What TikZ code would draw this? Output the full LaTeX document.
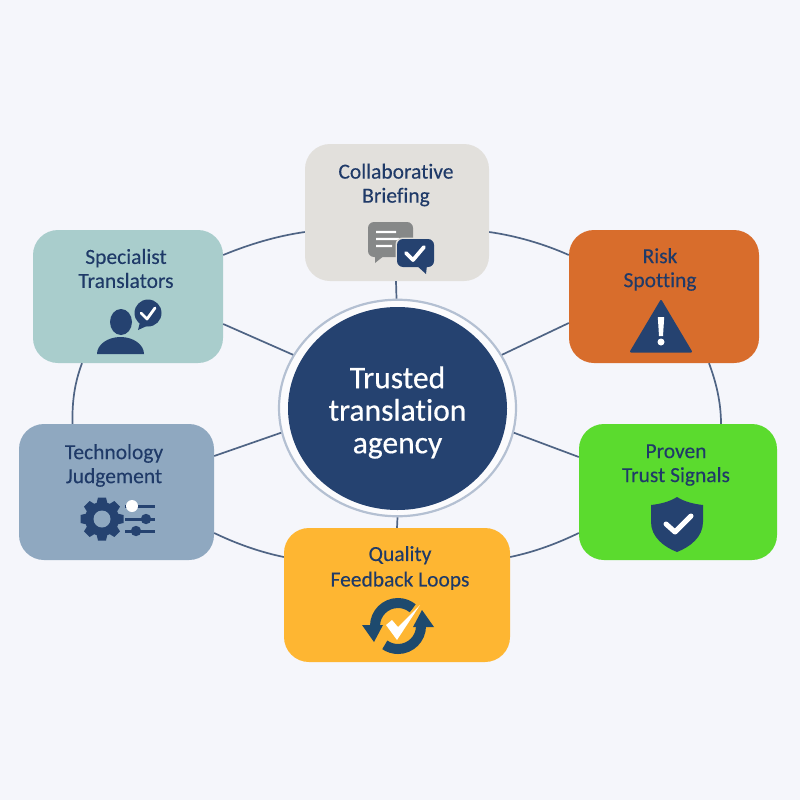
\documentclass[tikz,border=0pt]{standalone}
\usepackage{fontspec}
\usetikzlibrary{shapes.geometric}
\setmainfont{Carlito}[Ligatures=NoCommon]
\newfontfamily\hubfont{Carlito}[Ligatures=NoCommon,FakeBold=0.5]
\newfontfamily\labfont{Carlito}[Ligatures=NoCommon,FakeBold=0.15]
\definecolor{bgc}{HTML}{F5F6FB}
\definecolor{navy}{HTML}{254270}
\definecolor{inkc}{HTML}{1F3A68}
\definecolor{linkc}{HTML}{4F6484}
\definecolor{ringc}{HTML}{B4C0D2}
\definecolor{tealc}{HTML}{A9CDCC}
\definecolor{beigec}{HTML}{E2E0DC}
\definecolor{orangec}{HTML}{D86D2C}
\definecolor{greenc}{HTML}{5BDB2E}
\definecolor{yellowc}{HTML}{FEB632}
\definecolor{slatec}{HTML}{8FA8C0}
\definecolor{grayc}{HTML}{868888}
\definecolor{loopc}{HTML}{1E4A6E}
\tikzset{
 box/.style={rectangle,rounded corners=25pt,inner sep=0pt,draw=none},
 lbl/.style={text=inkc,font=\labfont\fontsize{21.5}{24}\selectfont,align=center,inner sep=0pt},
 link/.style={draw=linkc,line width=1.7pt},
 tick/.style={draw=white,line width=3.8pt,line cap=round,line join=round}
}
\begin{document}
\begin{tikzpicture}[x=1pt,y=-1pt]
\useasboundingbox (0,0) rectangle (800,800);
\fill[bgc] (0,0) rectangle (800,800);
% boxes
\node[box,fill=beigec,minimum width=184pt,minimum height=137pt] (collab) at (397,212.5) {};
\node[box,fill=tealc,minimum width=190pt,minimum height=133pt] (spec) at (128,296.5) {};
\node[box,fill=slatec,minimum width=195pt,minimum height=136pt] (tech) at (116.5,492) {};
\node[box,fill=yellowc,minimum width=226pt,minimum height=134pt] (qual) at (397,595) {};
\node[box,fill=orangec,minimum width=190pt,minimum height=133pt] (risk) at (664,296.5) {};
\node[box,fill=greenc,minimum width=198pt,minimum height=136pt] (proven) at (678,492) {};
% hub
\node[ellipse,draw=ringc,line width=2.2pt,fill=white!60!bgc,minimum width=237pt,minimum height=216.5pt,inner sep=0pt] (ring) at (397.5,408) {};
\node[ellipse,fill=navy,minimum width=219pt,minimum height=203pt,inner sep=0pt] (hub) at (397.5,408.5) {};
\node[text=white,align=center,inner sep=0pt,font=\hubfont\fontsize{31.5}{32.5}\selectfont] (hubtext) at (397.5,412.5) {Trusted\\translation\\agency};
% connectors
\draw[link] ([yshift=41.5pt]spec.east) .. controls (250,244) and (277,236) .. ([yshift=-19.5pt]collab.west);
\draw[link] ([yshift=-19.5pt]collab.east) .. controls (517,236) and (544,244) .. ([yshift=41.5pt]risk.west);
\draw[link] ([xshift=45pt]risk.south) .. controls (716,382) and (721,402) .. ([xshift=43pt]proven.north);
\draw[link] ([yshift=-41pt]proven.west) .. controls (556,544) and (534,552) .. ([yshift=38pt]qual.east);
\draw[link] ([yshift=38pt]qual.west) .. controls (260,552) and (237,544) .. ([yshift=-41pt]tech.east);
\draw[link] ([xshift=-44pt]tech.north) .. controls (72,400) and (75,382) .. ([xshift=-46pt]spec.south);
\draw[link] ([xshift=-1pt]ring.north) -- ([xshift=-1pt]collab.south);
\draw[link] (ring.south) -- (qual.north);
\draw[link] (ring.153) -- ([yshift=-27.5pt]spec.east);
\draw[link] (ring.27) -- ([yshift=-26.5pt]risk.west);
\draw[link] (ring.192) -- ([yshift=36pt]tech.east);
\draw[link] (ring.348) -- ([yshift=35pt]proven.west);
% labels
\node[lbl] (t1) at (396,185) {Collaborative\\Briefing};
\node[lbl] (t2) at (126,268.5) {Specialist\\Translators};
\node[lbl] (t3) at (114,465.5) {Technology\\Judgement};
\node[lbl,font=\labfont\fontsize{21.5}{25.5}\selectfont] (t4) at (400,568) {Quality\\Feedback Loops};
\node[lbl] (t5) at (660,269.5) {Risk\\Spotting};
\node[lbl] (t6) at (676,465) {Proven\\Trust Signals};
% chat icon
\fill[grayc,rounded corners=6pt] (368,222) rectangle (413,257);
\fill[grayc] (375,254) -- (375,263) -- (385,255) -- cycle;
\fill[white] (376,230.8) rectangle (396,233.2) (376,237.8) rectangle (399,240.2) (376,244.8) rectangle (392,247.2);
\fill[beigec,rounded corners=7pt] (395.5,237.5) rectangle (435.5,268.5);
\fill[navy,rounded corners=6pt] (397,239) rectangle (434,267);
\fill[navy] (416,265) -- (426,274) -- (427,265) -- cycle;
\draw[tick] (406,253) -- (413,260) -- (424,247);
% person icon
\fill[navy] (121,322) ellipse [x radius=11,y radius=13];
\fill[navy] (97,354) arc [start angle=180,end angle=360,x radius=23.5,y radius=17] -- cycle;
\fill[navy] (148,313) circle [radius=13.5];
\fill[navy] (140,322) -- (138,330) -- (149,325) -- cycle;
\draw[tick,line width=2.8pt] (141,313) -- (147,319) -- (155,308);
% gear icon
\fill[navy] (102,519) circle [radius=17];
\foreach \a in {0,45,...,315}{
 \fill[navy,rotate around={\a:(102,519)}] (98,497.5) -- (106,497.5) -- (108,506) -- (96,506) -- cycle;
}
\fill[slatec] (102,519) circle [radius=8.5];
\draw[navy,line width=3pt] (125,506) -- (155,506) (125,519) -- (155,519) (125,531) -- (155,531);
\fill[navy] (146,519) circle [radius=5.2] (136,531) circle [radius=5.2];
\fill[white] (132,506) circle [radius=6];
% loop icon
\draw[loopc,line width=10pt] (375,626) arc [start angle=180,end angle=310,radius=23];
\draw[loopc,line width=10pt] (421,626) arc [start angle=0,end angle=125,radius=23];
\fill[loopc] (362,625) -- (383,625) -- (374,642) -- cycle;
\fill[loopc] (434,627) -- (413,627) -- (422,610) -- cycle;
\draw[yellowc,fill=yellowc,line width=4pt,line join=round] (386,625) -- (392,620) -- (398,627) -- (420,605) -- (397,640) -- cycle;
\fill[white] (386,625) -- (392,620) -- (398,627) -- (420,605) -- (397,640) -- cycle;
% warning icon
\filldraw[fill=navy,draw=navy,line width=2pt,line join=round] (661,301) -- (691,351.5) -- (631,351.5) -- cycle;
\fill[white] (657.8,317) -- (664.2,317) -- (663,336) -- (659,336) -- cycle;
\fill[white] (661,342) circle [radius=3.5];
% shield icon
\fill[navy] (677,497) .. controls (685,502) and (694,504) .. (703,505) -- (703,522) .. controls (703,537) and (690,547) .. (677,552) .. controls (664,547) and (651,537) .. (651,522) -- (651,505) .. controls (660,504) and (669,502) .. (677,497) -- cycle;
\draw[tick,line width=5pt] (666,524) -- (675,532) -- (691,516);
\end{tikzpicture}
\end{document}
